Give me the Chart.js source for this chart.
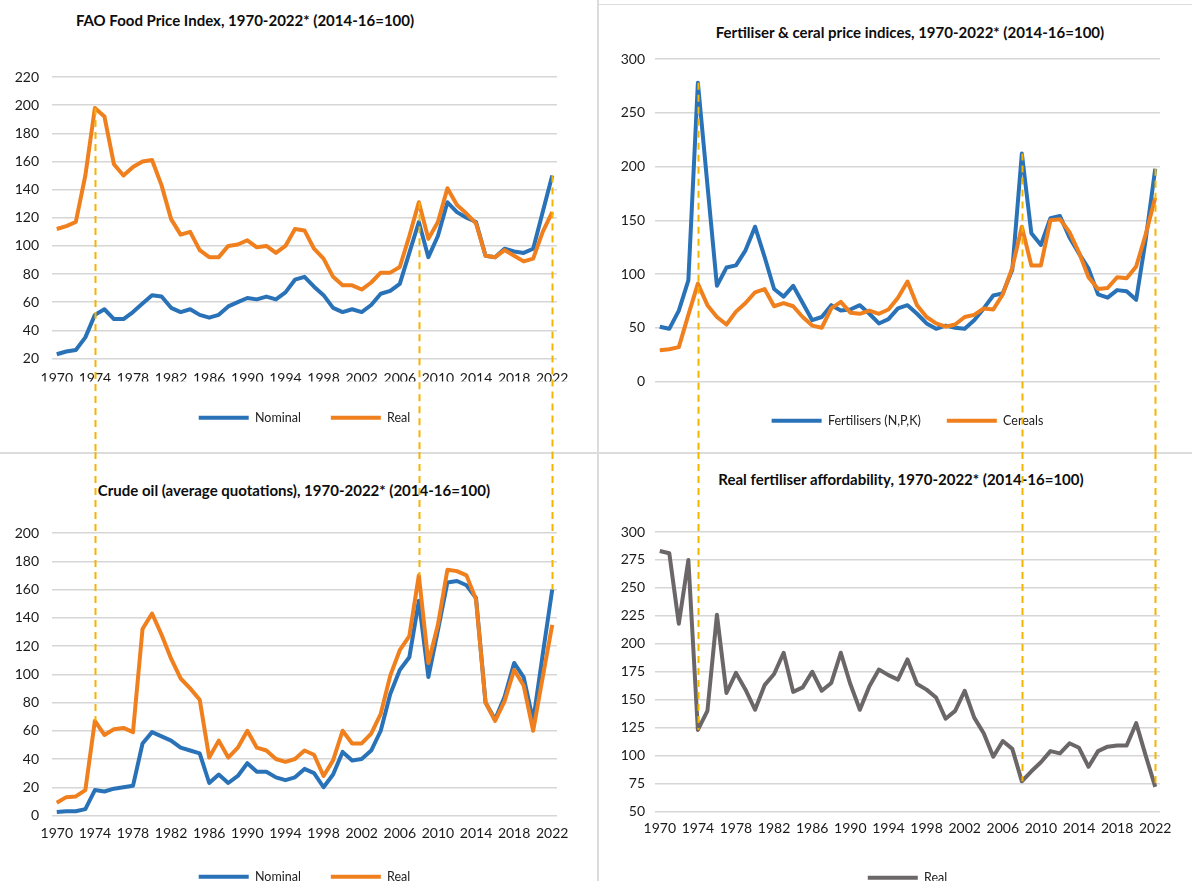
<!DOCTYPE html>
<html>
<head>
<meta charset="utf-8">
<script src="https://cdn.jsdelivr.net/npm/chart.js@4"></script>
<style>
  html, body { margin: 0; padding: 0; background: #fff; overflow: hidden; }
  body { width: 1192px; height: 881px; position: relative; font-family: Lato, "Open Sans", sans-serif; }
  .title { position: absolute; width: 600px; text-align: center; font-weight: bold; font-size: 15px; line-height: 18px; color: #0d0d0d; white-space: nowrap; }
  .rule { position: absolute; background: #dcdcdc; }
  canvas { position: absolute; }
</style>
</head>
<body>
<div class="rule" style="left:597px; top:0; width:2px; height:881px"></div>
<div class="rule" style="left:0; top:452px; width:1192px; height:2px"></div>
<div class="rule" style="left:597px; top:4px; width:595px; height:1px"></div>

<div class="title" style="left:-55px; top:11px">FAO Food Price Index, 1970-2022* (2014-16=100)</div>
<div class="title" style="left:610px; top:23px">Fertiliser &amp; ceral price indices, 1970-2022* (2014-16=100)</div>
<div class="title" style="left:-6px; top:481px">Crude oil (average quotations), 1970-2022* (2014-16=100)</div>
<div class="title" style="left:601px; top:470px">Real fertiliser affordability, 1970-2022* (2014-16=100)</div>

<canvas id="tl" width="596" height="452" style="left:0; top:0"></canvas>
<canvas id="tr" width="595" height="452" style="left:597px; top:0"></canvas>
<canvas id="bl" width="596" height="450" style="left:0; top:452px"></canvas>
<canvas id="br" width="595" height="450" style="left:597px; top:452px"></canvas>

<script>
// years on the x axis
var years = [1970, 1971, 1972, 1973, 1974, 1975, 1976, 1977, 1978, 1979,
             1980, 1981, 1982, 1983, 1984, 1985, 1986, 1987, 1988, 1989,
             1990, 1991, 1992, 1993, 1994, 1995, 1996, 1997, 1998, 1999,
             2000, 2001, 2002, 2003, 2004, 2005, 2006, 2007, 2008, 2009,
             2010, 2011, 2012, 2013, 2014, 2015, 2016, 2017, 2018, 2019,
             2020, 2021, 2022];
var markYears = [1974, 2008, 2022];

// FAO food price index
var foodNominal = [23, 25, 26, 35, 51, 55, 48, 48, 53, 59,
                   65, 64, 56, 53, 55, 51, 49, 51, 57, 60,
                   63, 62, 64, 62, 67, 76, 78, 71, 65, 56,
                   53, 55, 53, 58, 66, 68, 73, 95, 117, 92,
                   107, 131, 124, 120, 117, 93, 92, 98, 96, 95,
                   98, 124, 150];
var foodReal = [112, 114, 117, 150, 198, 192, 158, 150, 156, 160,
                161, 143, 119, 108, 110, 97, 92, 92, 100, 101,
                104, 99, 100, 95, 100, 112, 111, 98, 91, 78,
                72, 72, 69, 74, 81, 81, 85, 107, 131, 105,
                117, 141, 129, 123, 116, 93, 92, 97, 93, 89,
                91, 110, 124];

// fertiliser & cereal price indices
var fertilisers = [51, 49, 66, 94, 278, 183, 89, 106, 108, 122,
                   144, 116, 86, 79, 89, 73, 57, 60, 71, 66,
                   67, 71, 63, 54, 58, 68, 71, 63, 54, 49,
                   52, 50, 49, 57, 68, 80, 82, 104, 212, 138,
                   127, 152, 154, 134, 119, 105, 81, 78, 85, 84,
                   76, 132, 198];
var cereals = [29, 30, 32, 62, 91, 71, 60, 53, 65, 73,
               83, 86, 70, 73, 70, 60, 52, 50, 68, 74,
               64, 63, 66, 63, 67, 78, 93, 71, 60, 54,
               51, 53, 60, 62, 68, 67, 81, 106, 144, 108,
               108, 150, 151, 139, 120, 97, 86, 87, 97, 96,
               107, 137, 171];

// crude oil
var oilNominal = [2.4, 3, 3, 4.5, 18, 17, 19, 20, 21, 51,
                  59, 56, 53, 48, 46, 44, 23, 29, 23, 28,
                  37, 31, 31, 27, 25, 27, 33, 30, 20, 29,
                  45, 39, 40, 46, 60, 86, 103, 112, 152, 98,
                  131, 165, 166, 163, 154, 80, 68, 84, 108, 98,
                  67, 114, 160];
var oilReal = [9, 13, 13.5, 18, 67, 57, 61, 62, 59, 132,
               143, 128, 111, 97, 90, 82, 41, 53, 41, 48,
               60, 48, 46, 40, 38, 40, 46, 43, 28, 39,
               60, 51, 51, 58, 72, 99, 117, 127, 170, 108,
               135, 174, 173, 170, 153, 80, 67, 81, 103, 92,
               60, 98, 135];

// real fertiliser affordability
var affordability = [283, 281, 218, 275, 123, 140, 226, 156, 174, 159,
                     141, 163, 173, 192, 157, 161, 175, 158, 165, 192,
                     164, 141, 162, 177, 172, 168, 186, 164, 159, 152,
                     133, 140, 158, 134, 120, 99, 113, 106, 77, 86,
                     94, 104, 102, 111, 107, 90, 104, 108, 109, 109,
                     129, 100, 72];

var BLUE = '#2a72b8';
var ORANGE = '#f07f1e';
var GREY = '#6b6668';

Chart.defaults.font.family = 'Lato, "Open Sans", sans-serif';
Chart.defaults.font.size = 14;
Chart.defaults.color = '#1a1a1a';

// yellow dashed markers, running off the canvas edge so they join across panels
var guides = {
	id: 'guides',
	afterDraw: function(chart, args, opts) {
		var ctx = chart.ctx;
		var xs = chart.scales.x, ys = chart.scales.y;
		ctx.save();
		ctx.strokeStyle = '#f5b400';
		ctx.lineWidth = 2;
		ctx.setLineDash([7, 5]);
		opts.years.forEach(function(yr) {
			var i = years.indexOf(yr);
			var v = Math.max.apply(null, chart.data.datasets.map(function(d) { return d.data[i]; }));
			var px = Math.round(xs.getPixelForValue(i)) + 0.5;
			var py = ys.getPixelForValue(v);
			ctx.beginPath();
			if (opts.dir === 'down') {
				ctx.moveTo(px, py);
				ctx.lineTo(px, chart.height);
			} else {
				ctx.moveTo(px, 0);
				ctx.lineTo(px, py);
			}
			ctx.stroke();
		});
		ctx.restore();
	}
};

function makeChart(id, series, c) {
	return new Chart(document.getElementById(id), {
		type: 'line',
		data: {
			labels: years,
			datasets: series.map(function(s, k) {
				return {
					label: s.label,
					data: s.data,
					borderColor: s.color,
					backgroundColor: s.color,
					borderWidth: 4,
					pointRadius: 0,
					tension: 0,
					borderJoinStyle: 'round',
					order: series.length - k
				};
			})
		},
		options: {
			responsive: false,
			animation: false,
			layout: { padding: c.pad },
			scales: {
				x: {
					offset: true,
					grid: { display: false, drawTicks: false },
					border: { display: false },
					ticks: {
						autoSkip: false, maxRotation: 0, minRotation: 0, padding: c.xPad,
						callback: function(v, i) { return i % 4 === 0 ? this.getLabelForValue(v) : ''; }
					},
					afterFit: function(s) { s.height = c.xH; }
				},
				y: {
					min: c.min, max: c.max,
					ticks: { stepSize: c.step, padding: c.yPad },
					grid: { color: '#d6d6d6', lineWidth: 1.5, drawTicks: false },
					border: { display: false },
					afterFit: function(s) { s.width = c.yW; }
				}
			},
			plugins: {
				legend: {
					position: 'bottom',
					fullSize: false,
					labels: {
						usePointStyle: true, pointStyle: 'line', pointStyleWidth: 50,
						padding: c.legPad, font: { size: 12.5 }, color: '#222',
						sort: function(a, b) { return a.datasetIndex - b.datasetIndex; }
					}
				},
				tooltip: { enabled: false },
				guides: { years: markYears, dir: c.dir }
			}
		},
		plugins: [guides]
	});
}

makeChart('tl', [
	{ label: 'Nominal', data: foodNominal, color: BLUE },
	{ label: 'Real', data: foodReal, color: ORANGE }
], { pad: { top: 77, right: 39, bottom: 18, left: 0 }, yW: 52, yPad: 13, xH: 23, xPad: 12,
     legPad: 30, min: 20, max: 220, step: 20, dir: 'down' });

makeChart('tr', [
	{ label: 'Fertilisers (N,P,K)', data: fertilisers, color: BLUE },
	{ label: 'Cereals', data: cereals, color: ORANGE }
], { pad: { top: 59, right: 32, bottom: 15, left: 0 }, yW: 58, yPad: 10, xH: 7, xPad: 10,
     legPad: 26, min: 0, max: 300, step: 50, dir: 'down' });

makeChart('bl', [
	{ label: 'Nominal', data: oilNominal, color: BLUE },
	{ label: 'Real', data: oilReal, color: ORANGE }
], { pad: { top: 81, right: 39, bottom: 9, left: 0 }, yW: 52, yPad: 13, xH: 25, xPad: 10,
     legPad: 30, min: 0, max: 200, step: 20, dir: 'up' });

makeChart('br', [
	{ label: 'Real', data: affordability, color: GREY }
], { pad: { top: 80, right: 32, bottom: 8, left: 0 }, yW: 58, yPad: 10, xH: 50, xPad: 9,
     legPad: 10, min: 50, max: 300, step: 25, dir: 'up' });
</script>
</body>
</html>
